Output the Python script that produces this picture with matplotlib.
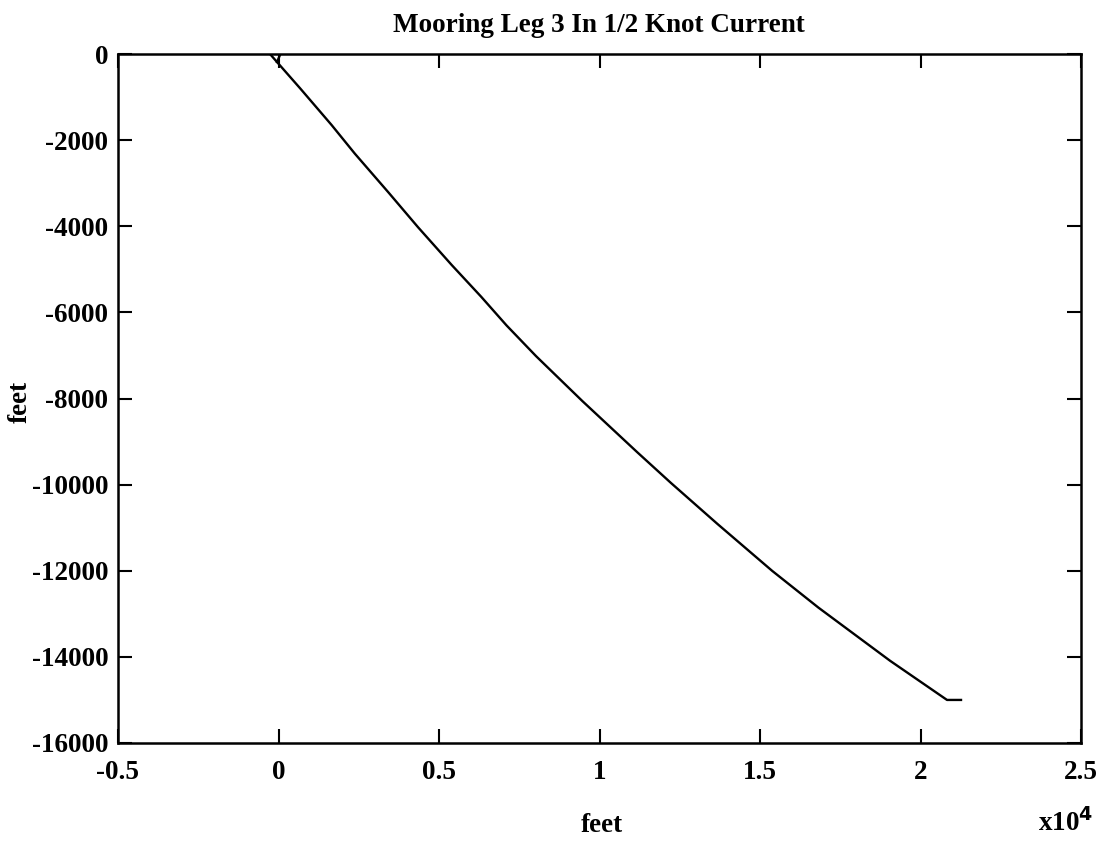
import matplotlib
matplotlib.use("Agg")
import matplotlib.pyplot as plt

# Data (feet)
leg_x = [-265, -47, 670, 1654, 2377, 3427, 4346, 5396, 6315, 7103, 8022, 9467,
         11175, 12224, 13670, 15377, 16820, 19053, 20826, 21262]
leg_y = [0, -186, -794, -1649, -2313, -3216, -4022, -4900, -5638, -6302, -7015, -8060,
         -9247, -9960, -10910, -12001, -12856, -14091, -15000, -15000]
stub_x = [60, -47]
stub_y = [0, -186]

xticks = [-5000, 0, 5000, 10000, 15000, 20000, 25000]
xtick_labels = ['-0.5', '0', '0.5', '1', '1.5', '2', '2.5']
yticks = [-16000, -14000, -12000, -10000, -8000, -6000, -4000, -2000, 0]
ytick_labels = ['-16000', '-14000', '-12000', '-10000', '-8000', '-6000', '-4000', '-2000', '0']

plt.rcParams['font.family'] = ['Liberation Serif', 'DejaVu Serif']
FS = 19.5

fig = plt.figure(figsize=(11.04, 8.44), dpi=100)
ax = fig.add_axes([118/1104, 1-743/844, (1081-118)/1104, (743-54)/844])

ax.plot(leg_x, leg_y, color='black', lw=1.7, solid_joinstyle='round')
ax.plot(stub_x, stub_y, color='black', lw=1.7)

ax.set_xlim(-5000, 25000)
ax.set_ylim(-16000, 0)
ax.set_xticks(xticks)
ax.set_xticklabels(xtick_labels)
ax.set_yticks(yticks)
ax.set_yticklabels(ytick_labels)
ax.tick_params(direction='in', length=10, width=1.5, top=True, right=True,
               labelsize=FS, colors='black')
ax.tick_params(axis='x', pad=12)
ax.tick_params(axis='y', pad=7)
for lbl in ax.get_xticklabels() + ax.get_yticklabels():
    lbl.set_fontweight('bold')
for s in ax.spines.values():
    s.set_linewidth(1.8)

fig.text(599/1104, 1-25/844, 'Mooring Leg 3 In 1/2 Knot Current', ha='center', va='center',
         fontsize=FS, fontweight='bold')
fig.text(602/1104, 1-825/844, 'feet', ha='center', va='center', fontsize=FS, fontweight='bold')
fig.text(20/1104, 1-402/844, 'feet', ha='center', va='center', fontsize=FS, fontweight='bold', rotation=90)
fig.text(1066/1104, 1-823/844, r'x10$^{\mathbf{4}}$', ha='center', va='center', fontsize=FS, fontweight='bold')

fig.savefig('out.png', dpi=100)
